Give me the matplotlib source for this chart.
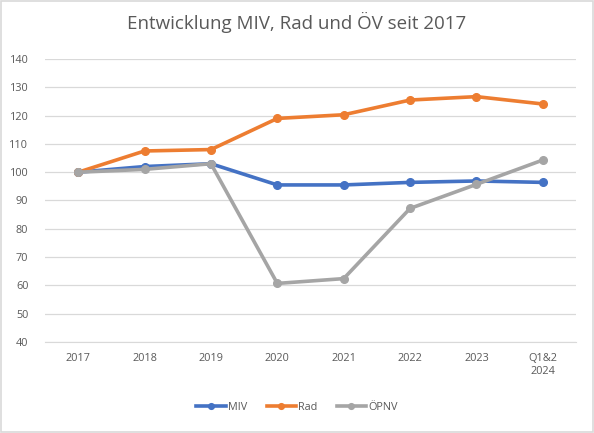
import matplotlib
matplotlib.use("Agg")
import matplotlib.pyplot as plt
from matplotlib.patches import Rectangle

categories = ["2017", "2018", "2019", "2020", "2021", "2022", "2023", "Q1&2\n2024"]
miv = [100, 102, 103, 95.5, 95.5, 96.4, 96.9, 96.4]
rad = [100, 107.5, 108, 119, 120.3, 125.5, 126.7, 124.1]
oepnv = [100, 101, 103, 60.7, 62.4, 87.2, 95.7, 104.3]
yticks = [40, 50, 60, 70, 80, 90, 100, 110, 120, 130, 140]

plt.rcParams['font.family'] = ['Open Sans', 'DejaVu Sans']
txt = '#595959'

fig = plt.figure(figsize=(5.94, 4.33), dpi=100)
ax = fig.add_axes([45/594, 1-342/433, 531/594, 283/433])

x = list(range(len(categories)))
ax.plot(x, miv, color='#4472C4', lw=2.6, marker='o', ms=5.5, label='MIV', zorder=3)
ax.plot(x, rad, color='#ED7D31', lw=2.6, marker='o', ms=5.5, label='Rad', zorder=3)
ax.plot(x, oepnv, color='#A5A5A5', lw=2.6, marker='o', ms=5.5, label='ÖPNV', zorder=4)

ax.set_xlim(-0.5, len(categories) - 0.5)
ax.set_ylim(40, 140)
ax.set_yticks(yticks)
ax.set_xticks(x)
ax.set_xticklabels(categories)
ax.grid(axis='y', color='#D9D9D9', lw=0.9)
ax.set_axisbelow(True)
for s in ['top', 'right', 'left']:
    ax.spines[s].set_visible(False)
ax.spines['bottom'].set_color('#D9D9D9')
ax.tick_params(axis='both', length=0, labelsize=7.8, colors=txt, pad=8)
ax.tick_params(axis='y', pad=12)

fig.text(0.5, 1-22/433, 'Entwicklung MIV, Rad und ÖV seit 2017', ha='center', va='center',
         fontsize=13.5, color=txt)

leg = fig.legend(loc='center', bbox_to_anchor=(0.5, 1-407/433), ncol=3, frameon=False,
                 fontsize=7.8, handlelength=2.7, columnspacing=1.8, handletextpad=0.2,
                 markerscale=0.75)
for t in leg.get_texts():
    t.set_color(txt)

fig.patches.append(Rectangle((0.002, 0.002), 0.996, 0.996, transform=fig.transFigure,
                             fill=False, edgecolor='#D9D9D9', lw=1.2))

fig.savefig('out.png', dpi=100)
